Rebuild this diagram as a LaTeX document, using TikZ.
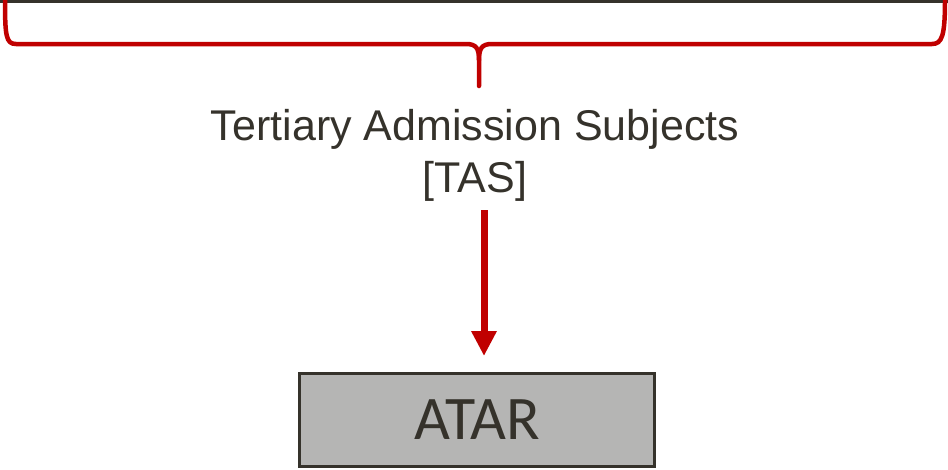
\documentclass[tikz,border=0pt]{standalone}
\usepackage{fontspec}
\setmainfont{Liberation Sans}
\newfontfamily\atarfont{Carlito}
\usetikzlibrary{arrows.meta}
\definecolor{tasred}{HTML}{C00000}
\definecolor{tasdark}{HTML}{35322B}
\definecolor{tasgray}{HTML}{B5B5B4}
\begin{document}
\begin{tikzpicture}[x=1pt,y=-1pt,
    subjectcell/.style={draw=tasdark, line width=3pt},
    bracepath/.style={draw=tasred, line width=4.5pt, line cap=round, line join=round},
    subjectlabel/.style={text=tasdark, align=center, inner sep=0pt,
        font=\fontsize{43}{52}\selectfont},
    atarbox/.style={draw=tasdark, line width=3pt, fill=tasgray, text=tasdark,
        minimum width=355pt, minimum height=93pt, inner sep=0pt,
        font=\atarfont\fontsize{62}{70}\selectfont},
    tasarrow/.style={draw=tasred, line width=7pt,
        -{Triangle[width=24pt,length=25pt]}}]
    \useasboundingbox (0,0) rectangle (948,469);
    \clip (0,0) rectangle (948,469);

    \foreach \from / \to in {-10/195,195/374,374/548,548/715,715/958}
        \draw[subjectcell] (\from,-30) rectangle (\to,1.5);

    \draw[bracepath] (5,0) .. controls (5,36) and (6,44) .. (16,44) -- (466,44)
        .. controls (476,44) and (479,48) .. (479,60) -- (479,86);
    \draw[bracepath] (479,60) .. controls (479,48) and (482,44) .. (492,44)
        -- (932,44) .. controls (942,44) and (945,36) .. (945,0);

    \node[subjectlabel, anchor=base] (tas) at (475,192) {Tertiary Admission Subjects\\{}[TAS]};
    \node[atarbox] (atar) at (477,420) {ATAR};

    \coordinate (arrowtop) at (484,210);
    \draw[tasarrow, shorten >=16pt] (arrowtop) -- (arrowtop |- atar.north);
\end{tikzpicture}
\end{document}
